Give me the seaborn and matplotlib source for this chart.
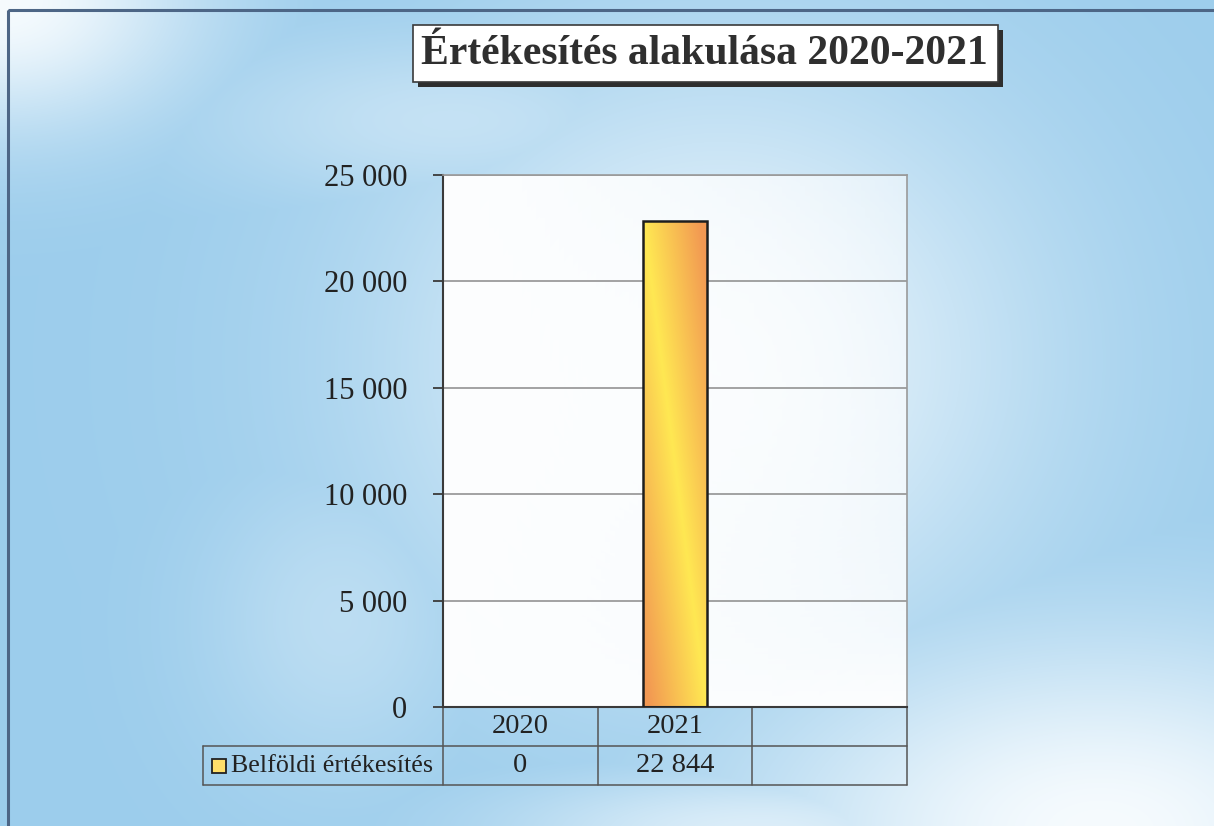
import numpy as np
import pandas as pd
import matplotlib
matplotlib.use("Agg")
import matplotlib.pyplot as plt
import seaborn as sns
from matplotlib.patches import Rectangle
from matplotlib.lines import Line2D
from matplotlib.ticker import FuncFormatter

# ---- data ----
title = "Értékesítés alakulása 2020-2021"
years = ["2020", "2021"]
table_columns = ["2020", "2021", ""]
series_name = "Belföldi értékesítés"
sales = [0, 22844]
y_ticks = [0, 5000, 10000, 15000, 20000, 25000]

# ---- layout (pixels) ----
W, H = 1214, 826
plot_left, plot_right, plot_top, plot_bottom = 443, 907, 175, 707
row_h = 39
legend_left = 203


def fmt(v, pos=None):
    return f"{v:,.0f}".replace(",", " ")


sns.set_theme(style="white")
plt.rcParams["font.family"] = ["Liberation Serif", "DejaVu Serif"]

fig = plt.figure(figsize=(W / 100, H / 100), dpi=100)

# background layer in pixel coordinates
bg = fig.add_axes([0, 0, 1, 1], zorder=0)
bg.set_xlim(0, W)
bg.set_ylim(H, 0)
bg.axis("off")


def blob(cx, cy, sx, sy, amp):
    return amp * np.exp(-(((xx - cx) / sx) ** 2 + ((yy - cy) / sy) ** 2))


yy, xx = np.mgrid[0:H, 0:W].astype(float)
glow = np.maximum.reduce([
    blob(0, 0, 200, 130, 1.0),
    blob(720, 360, 330, 300, 0.85),
    blob(450, 120, 260, 90, 0.45),
    blob(1100, 830, 360, 200, 1.0),
    blob(760, 830, 260, 60, 0.7),
    blob(340, 620, 140, 160, 0.35),
])
glow = np.clip(glow, 0, 1)
blue = np.array([156, 205, 236]) / 255
white = np.array([246, 251, 254]) / 255
bg_img = blue + (white - blue) * glow[..., None]
bg.imshow(bg_img, extent=(0, W, H, 0), aspect="auto", interpolation="bilinear", zorder=0)
bg.add_patch(Rectangle((8, 10), W + 20, H + 20, fill=False, ec="#4d6686", lw=2.2, zorder=1))

# title box with drop shadow
bg.add_patch(Rectangle((418, 30), 585, 57, fc="#2e2e2e", ec="none", zorder=2))
bg.add_patch(Rectangle((413, 25), 585, 57, fc="white", ec="#3a3a3a", lw=1.2, zorder=3))
bg.text(704, 54, title, ha="center", va="center", fontsize=30, fontweight="bold",
        color="#2f2f2f", zorder=4)

# plot area
ax = fig.add_axes([plot_left / W, 1 - plot_bottom / H,
                   (plot_right - plot_left) / W, (plot_bottom - plot_top) / H], zorder=2)
ax.patch.set_alpha(0)

df = pd.DataFrame({"year": years, "sales": sales})
sns.barplot(data=df, x="year", y="sales", order=years, width=0.41,
            color="#ffd966", edgecolor="#1e1e1e", linewidth=1.8, ax=ax, zorder=3)

# white, partly translucent plot-area fill (more see-through towards the upper right)
ny, nx = 100, 100
gy, gx = np.mgrid[0:ny, 0:nx]
alpha = 0.97 - 0.45 * (gx / nx) ** 1.5 * (gy / ny) ** 0.7
fill = np.ones((ny, nx, 4))
fill[..., 3] = alpha
ax.imshow(fill, extent=(-0.5, 2.5, 0, 25000), aspect="auto", zorder=0, origin="lower")

# yellow-orange gradient inside each bar
yellow = np.array([255, 232, 82]) / 255
orange = np.array([242, 152, 82]) / 255
for bar in ax.containers[0]:
    h = bar.get_height()
    if h <= 0:
        bar.set_linewidth(0)
        continue
    by, bx = np.mgrid[0:200, 0:60]
    s = by / 199
    t = bx / 59
    d = np.clip(np.abs(t - s) * 1.1, 0, 1)
    grad = yellow + (orange - yellow) * d[..., None]
    x0 = bar.get_x()
    im = ax.imshow(grad, extent=(x0, x0 + bar.get_width(), bar.get_y(), bar.get_y() + h),
                   aspect="auto", zorder=2.5, origin="upper", interpolation="bilinear")
    im.set_clip_path(bar)
    bar.set_facecolor("none")

ax.set_xlim(-0.5, 2.5)
ax.set_ylim(0, 25000)
ax.set_yticks(y_ticks)
ax.yaxis.set_major_formatter(FuncFormatter(fmt))
ax.yaxis.grid(True, color="#8a8a8a", lw=1.1)
ax.set_axisbelow(True)
ax.set_xlabel("")
ax.set_ylabel("")
ax.tick_params(axis="x", bottom=False, labelbottom=False)
ax.tick_params(axis="y", left=True, direction="out", length=7.2, width=1.3,
               color="#3a3a3a", labelsize=22, pad=18.5, labelcolor="#222222")
for side in ("top", "right"):
    ax.spines[side].set_color("#9a9a9a")
    ax.spines[side].set_linewidth(1.2)
for side in ("left", "bottom"):
    ax.spines[side].set_color("#3a3a3a")
    ax.spines[side].set_linewidth(1.5)

# data table under the plot
line_kw = dict(color="#555555", lw=1.1, zorder=5)
col_w = (plot_right - plot_left) / len(table_columns)
bounds = [plot_left + i * col_w for i in range(len(table_columns) + 1)]
r0, r1, r2 = plot_bottom, plot_bottom + row_h, plot_bottom + 2 * row_h
for bx in bounds:
    bg.add_line(Line2D([bx, bx], [r0, r2], **line_kw))
bg.add_line(Line2D([legend_left, legend_left], [r1, r2], **line_kw))
bg.add_line(Line2D([legend_left, plot_right], [r1, r1], **line_kw))
bg.add_line(Line2D([legend_left, plot_right], [r2, r2], **line_kw))

values_by_col = dict(zip(years, sales))
for i, col in enumerate(table_columns):
    cx = bounds[i] + col_w / 2
    bg.text(cx, (r0 + r1) / 2, col, ha="center", va="center", fontsize=20.5,
            color="#222222", zorder=6)
    if col in values_by_col:
        bg.text(cx, (r1 + r2) / 2, fmt(values_by_col[col]), ha="center", va="center",
                fontsize=20.5, color="#222222", zorder=6)

ky = (r1 + r2) / 2
bg.add_patch(Rectangle((212, ky - 7), 14, 14, fc="#ffdf6a", ec="#222222",
                       lw=1.3, zorder=6))
bg.text(231, ky, series_name, ha="left", va="center", fontsize=18.7,
        color="#222222", zorder=6)

fig.savefig("out.png", dpi=100)
